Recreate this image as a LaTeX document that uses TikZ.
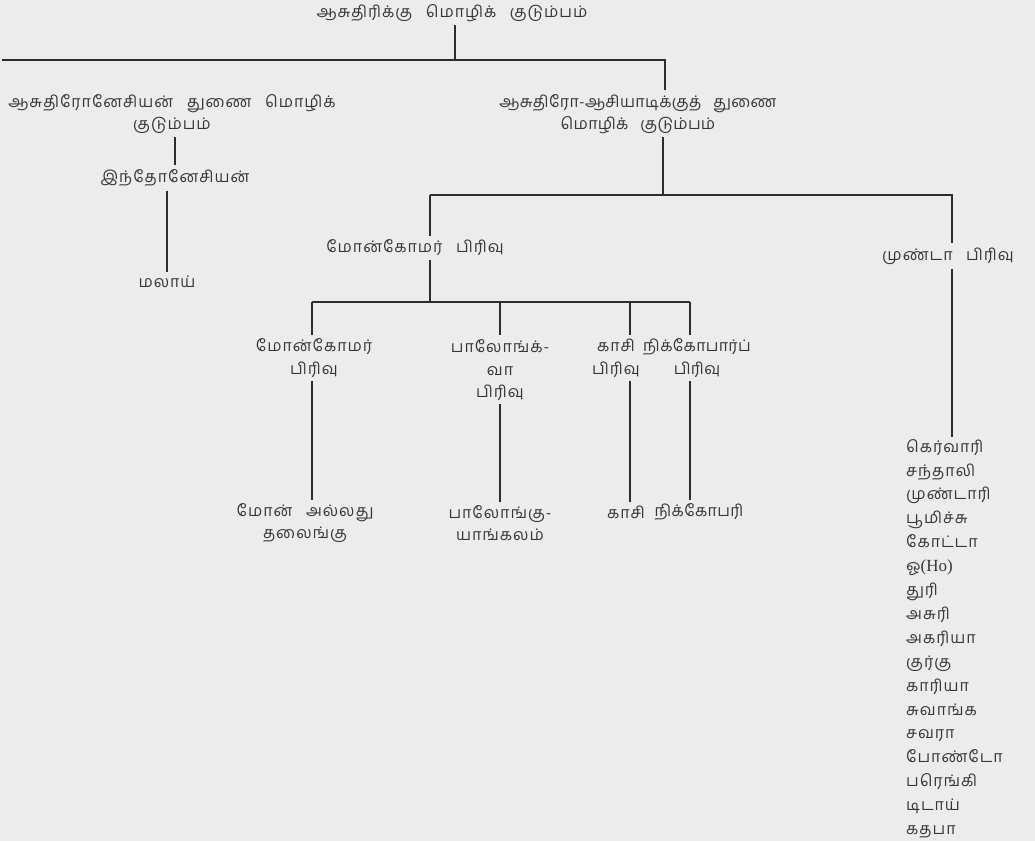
\documentclass[tikz,border=0pt]{standalone}
\usepackage{fontspec}
\newfontfamily\tam[Script=Tamil,LetterSpace=6,WordSpace=2.8]{Hind Madurai}
\newfontfamily\tamc[Script=Tamil,LetterSpace=2,WordSpace=2.8]{Hind Madurai}
\newfontfamily\lat{Liberation Serif}
\definecolor{bg}{RGB}{236,236,236}
\definecolor{ink}{RGB}{55,55,55}
\definecolor{rule}{RGB}{45,45,45}
\begin{document}
\begin{tikzpicture}[x=1pt,y=-1pt,
  lbl/.style={inner sep=0pt,align=center,text=ink,font=\tam\fontsize{16}{22.5}\selectfont},
  lblc/.style={lbl,font=\tamc\fontsize{16}{22.5}\selectfont},
  conn/.style={draw=rule,line width=1.2pt}]
\fill[bg] (0,0) rectangle (1035,841);
\useasboundingbox (0,0) rectangle (1035,841);
% nodes
\node[lbl] (root) at (452,13) {ஆசுதிரிக்கு மொழிக் குடும்பம்};
\node[lbl] (an) at (172,114) {ஆசுதிரோனேசியன் துணை மொழிக்\\குடும்பம்};
\node[lbl] (indo) at (175,178) {இந்தோனேசியன்};
\node[lbl] (malay) at (167,282) {மலாய்};
\node[lblc] (aa) at (638,114) {ஆசுதிரோ-ஆசியாடிக்குத் துணை\\மொழிக் குடும்பம்};
\node[lbl] (mk) at (415,248) {மோன்கோமர் பிரிவு};
\node[lbl] (munda) at (948,256) {முண்டா பிரிவு};
\node[lbl] (mk2) at (314,358) {மோன்கோமர்\\பிரிவு};
\node[lbl] (pal) at (500,370) {பாலோங்க்-\\வா\\பிரிவு};
\node[lbl] (kasi) at (616,358) {காசி\\பிரிவு};
\node[lblc] (nik) at (697,358) {நிக்கோபார்ப்\\பிரிவு};
\node[lbl] (mon) at (305,523) {மோன் அல்லது\\தலைங்கு};
\node[lbl] (paly) at (500,523) {பாலோங்கு-\\யாங்கலம்};
\node[lbl] (kasi2) at (626,512) {காசி};
\node[lblc] (nik2) at (699,512) {நிக்கோபரி};
\node[lbl,align=left,anchor=north west,font=\tam\fontsize{16}{23.9}\selectfont] (list) at (906,439)
 {கெர்வாரி\\சந்தாலி\\முண்டாரி\\பூமிச்சு\\கோட்டா\\ஓ{\lat\fontsize{17}{23.9}\selectfont (Ho)}\\துரி\\அசுரி\\அகரியா\\குர்கு\\காரியா\\சுவாங்க\\சவரா\\போண்டோ\\பரெங்கி\\டிடாய்\\கதபா};
% junction coordinates
\coordinate (j1) at (455,60);
\coordinate (j1L) at (2,60);
\coordinate (j1R) at (665,60);
\coordinate (j2) at (663,195);
\coordinate (j2L) at (430,195);
\coordinate (j2R) at (952,195);
\coordinate (j3) at (430,302);
\coordinate (j3L) at (312,302);
\coordinate (j3R) at (690,302);
\coordinate (jk) at (630,302);
% connectors
\draw[conn] ([yshift=-3pt]root.south -| j1) -- (j1);
\draw[conn] (j1L) -- (j1R) -- ([yshift=4pt]j1R |- aa.north);
\draw[conn] ([yshift=-3pt]an.south -| indo) -- ([yshift=4pt]indo.north);
\draw[conn] ([yshift=-4pt]indo.south -| malay) -- ([yshift=4pt]malay.north);
\draw[conn] ([yshift=-3pt]aa.south -| j2) -- (j2);
\draw[conn] (j2L) -- (j2R) -- ([yshift=4pt]j2R |- munda.north);
\draw[conn] (j2L) -- ([yshift=4pt]j2L |- mk.north);
\draw[conn] ([yshift=-4pt]mk.south -| j3) -- (j3);
\draw[conn] (j3L) -- (j3R);
\draw[conn] (j3L) -- ([yshift=4pt]j3L |- mk2.north);
\draw[conn] (j3 -| pal) -- ([yshift=4pt]pal.north);
\draw[conn] (jk) -- ([yshift=4pt]jk |- kasi.north);
\draw[conn] (j3R) -- ([yshift=4pt]j3R |- nik.north);
\draw[conn] ([yshift=-4pt]mk2.south -| j3L) -- ([yshift=3pt]j3L |- mon.north);
\draw[conn] ([yshift=-3pt]pal.south) -- ([yshift=3pt]pal.south |- paly.north);
\draw[conn] ([yshift=-4pt]kasi.south -| jk) -- ([yshift=3pt]jk |- kasi2.north);
\draw[conn] ([yshift=-4pt]nik.south -| j3R) -- ([yshift=3pt]j3R |- nik2.north);
\draw[conn] ([yshift=-4pt]munda.south -| j2R) -- ([yshift=2pt]j2R |- list.north);
\end{tikzpicture}
\end{document}
